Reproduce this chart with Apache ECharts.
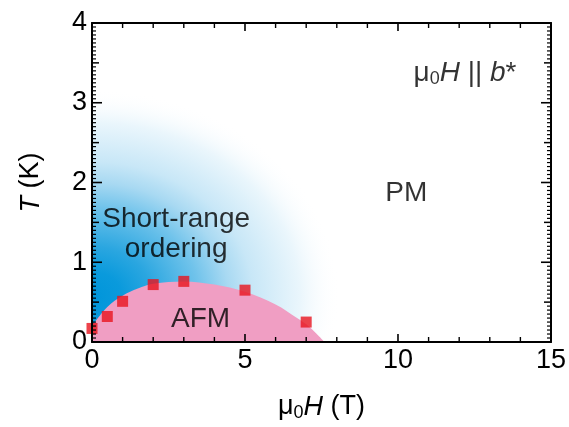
<!DOCTYPE html>
<html>
<head>
<meta charset="utf-8">
<script src="https://cdn.jsdelivr.net/npm/echarts@6/dist/echarts.min.js"></script>
<style>
html,body{margin:0;padding:0;background:#fff;}
#chart{width:569px;height:427px;}
</style>
</head>
<body>
<div id="chart"></div>
<script>
// ---- data ----
const fieldH = [0, 0.5, 1, 2, 3, 5, 7];                    // μ0H (T), red squares
const neelT  = [0.17, 0.32, 0.51, 0.72, 0.76, 0.65, 0.25]; // T (K)
const afmEdgeH = [0, 0.5, 1, 1.5, 2, 3, 4, 5, 6, 6.7, 7.1, 7.6];
const afmEdgeT = [0.2, 0.44, 0.58, 0.67, 0.73, 0.76, 0.72, 0.63, 0.47, 0.3, 0.19, 0];
const shortRange = [[0, 0.57, 8.1, 2.6]];  // centre H, centre T, extent H, extent T
const xTicks = [0, 5, 10, 15];
const yTicks = [0, 1, 2, 3, 4];
const xMinorTicks = [1, 2, 3, 4, 6, 7, 8, 9, 11, 12, 13, 14];
const yMidTicks = [0.5, 1.5, 2.5, 3.5];
const yMinorStep = 0.05;
const annotations = [
  [2.75, 1.35, 'short'],
  [3.55, 0.29, 'afm'],
  [10.27, 1.87, 'pm'],
  [12.19, 3.37, 'field']
];
const annotationText = {
  short: 'Short-range\nordering',
  afm: 'AFM',
  pm: 'PM',
  field: '{t|μ}{sub|0}{it|H} {t|||} {it|b}{t|*}'
};

const FONT = '"Liberation Sans", Arial, sans-serif';
const FS = 27;
const AFS = 28;
const X_MIN = xTicks[0], X_MAX = xTicks[xTicks.length - 1];
const Y_MIN = yTicks[0], Y_MAX = yTicks[yTicks.length - 1];

// axis tick marks: [value, dim (0 = x, 1 = y), length px, width px]
const tickMarks = [];
xTicks.forEach(v => tickMarks.push([v, 0, 8, 1.6]));
xMinorTicks.forEach(v => tickMarks.push([v, 0, 5, 1.4]));
yTicks.forEach(v => tickMarks.push([v, 1, 10, 1.6]));
yMidTicks.forEach(v => tickMarks.push([v, 1, 7, 1.5]));
for (let i = 1; i < Math.round((Y_MAX - Y_MIN) / yMinorStep); i++) {
  const v = +(Y_MIN + i * yMinorStep).toFixed(2);
  if (i % 10 !== 0) tickMarks.push([v, 1, 4, 1.2]);
}

const chart = echarts.init(document.getElementById('chart'));

const richText = (fs) => ({
  t: {fontSize: fs, fontFamily: FONT, color: '#000', lineHeight: 30},
  it: {fontSize: fs, fontFamily: FONT, fontStyle: 'italic', color: '#000', lineHeight: 30},
  sub: {fontSize: 18, fontFamily: FONT, color: '#000', lineHeight: 18, verticalAlign: 'bottom'}
});

function xAxisCfg(pos, labels) {
  return {
    type: 'value', position: pos, z: 10, min: X_MIN, max: X_MAX, interval: 5,
    axisLine: {show: true, onZero: false, lineStyle: {color: '#000', width: 2}},
    axisTick: {show: false}, minorTick: {show: false}, splitLine: {show: false},
    axisLabel: {show: labels, color: '#000', fontSize: FS, fontFamily: FONT, margin: 5},
    name: labels ? '{t|μ}{sub|0}{it|H}{t| (T)}' : '',
    nameLocation: 'middle', nameGap: 50,
    nameTextStyle: {rich: richText(FS)}
  };
}
function yAxisCfg(pos, labels) {
  return {
    type: 'value', position: pos, z: 10, min: Y_MIN, max: Y_MAX, interval: 1,
    axisLine: {show: true, onZero: false, lineStyle: {color: '#000', width: 2}},
    axisTick: {show: false}, minorTick: {show: false}, splitLine: {show: false},
    axisLabel: {show: labels, color: '#000', fontSize: FS, fontFamily: FONT, margin: 5},
    name: labels ? '{it|T}{t| (K)}' : '',
    nameLocation: 'middle', nameGap: 46, nameRotate: 90,
    nameTextStyle: {rich: richText(FS)}
  };
}

const option = {
  backgroundColor: '#fff',
  animation: false,
  grid: {left: 92, right: 17, top: 23, bottom: 81},
  xAxis: [xAxisCfg('bottom', true), xAxisCfg('top', false)],
  yAxis: [yAxisCfg('left', true), yAxisCfg('right', false)],
  series: [
    {
      type: 'custom', clip: true, z: 1,
      data: shortRange,
      renderItem: function (params, api) {
        const c = api.coord([api.value(0), api.value(1)]);
        const s = api.size([api.value(2), api.value(3)]);
        const rx = s[0], ry = s[1];
        return {
          type: 'circle',
          shape: {cx: c[0], cy: c[1], r: rx},
          originX: c[0], originY: c[1], scaleY: ry / rx,
          style: {
            fill: new echarts.graphic.RadialGradient(0.5, 0.5, 0.5, [
              {offset: 0, color: '#0095DA'},
              {offset: 0.12, color: '#0A9ADC'},
              {offset: 0.24, color: '#2AA6E0'},
              {offset: 0.43, color: '#70C3EB'},
              {offset: 0.55, color: '#A8D9F2'},
              {offset: 0.65, color: '#C8E7F7'},
              {offset: 0.84, color: '#EAF6FC'},
              {offset: 1, color: 'rgba(255,255,255,0)'}
            ])
          }
        };
      }
    },
    {
      type: 'line', z: 2, smooth: 0.35, showSymbol: false, symbol: 'none',
      data: afmEdgeH.map((h, i) => [h, afmEdgeT[i]]),
      lineStyle: {width: 0, color: '#F09EC3'},
      areaStyle: {color: '#F09EC3', opacity: 1},
      silent: true
    },
    {
      type: 'scatter', z: 3, symbol: 'rect', symbolSize: 11,
      data: fieldH.map((h, i) => [h, neelT[i]]),
      itemStyle: {color: '#E8141E'}
    },
    {
      type: 'custom', z: 6, clip: false, silent: true,
      data: tickMarks,
      encode: {x: 0},
      renderItem: function (params, api) {
        const v = api.value(0), dim = api.value(1), len = api.value(2), w = api.value(3);
        const st = {stroke: '#000', lineWidth: w};
        if (dim === 0) {
          const b = api.coord([v, Y_MIN]), t = api.coord([v, Y_MAX]);
          return {type: 'group', children: [
            {type: 'line', shape: {x1: b[0], y1: b[1], x2: b[0], y2: b[1] - len}, style: st},
            {type: 'line', shape: {x1: t[0], y1: t[1], x2: t[0], y2: t[1] + len}, style: st}
          ]};
        }
        const l = api.coord([X_MIN, v]), r = api.coord([X_MAX, v]);
        return {type: 'group', children: [
          {type: 'line', shape: {x1: l[0], y1: l[1], x2: l[0] + len, y2: l[1]}, style: st},
          {type: 'line', shape: {x1: r[0], y1: r[1], x2: r[0] - len, y2: r[1]}, style: st}
        ]};
      }
    },
    {
      type: 'scatter', z: 7, symbolSize: 0, silent: true,
      data: annotations,
      label: {
        show: true, position: 'inside', color: '#000',
        fontSize: AFS, fontFamily: FONT, lineHeight: 30, align: 'center', verticalAlign: 'middle',
        formatter: p => annotationText[p.value[2]],
        rich: richText(AFS)
      }
    }
  ]
};
chart.setOption(option);
</script>
</body>
</html>
